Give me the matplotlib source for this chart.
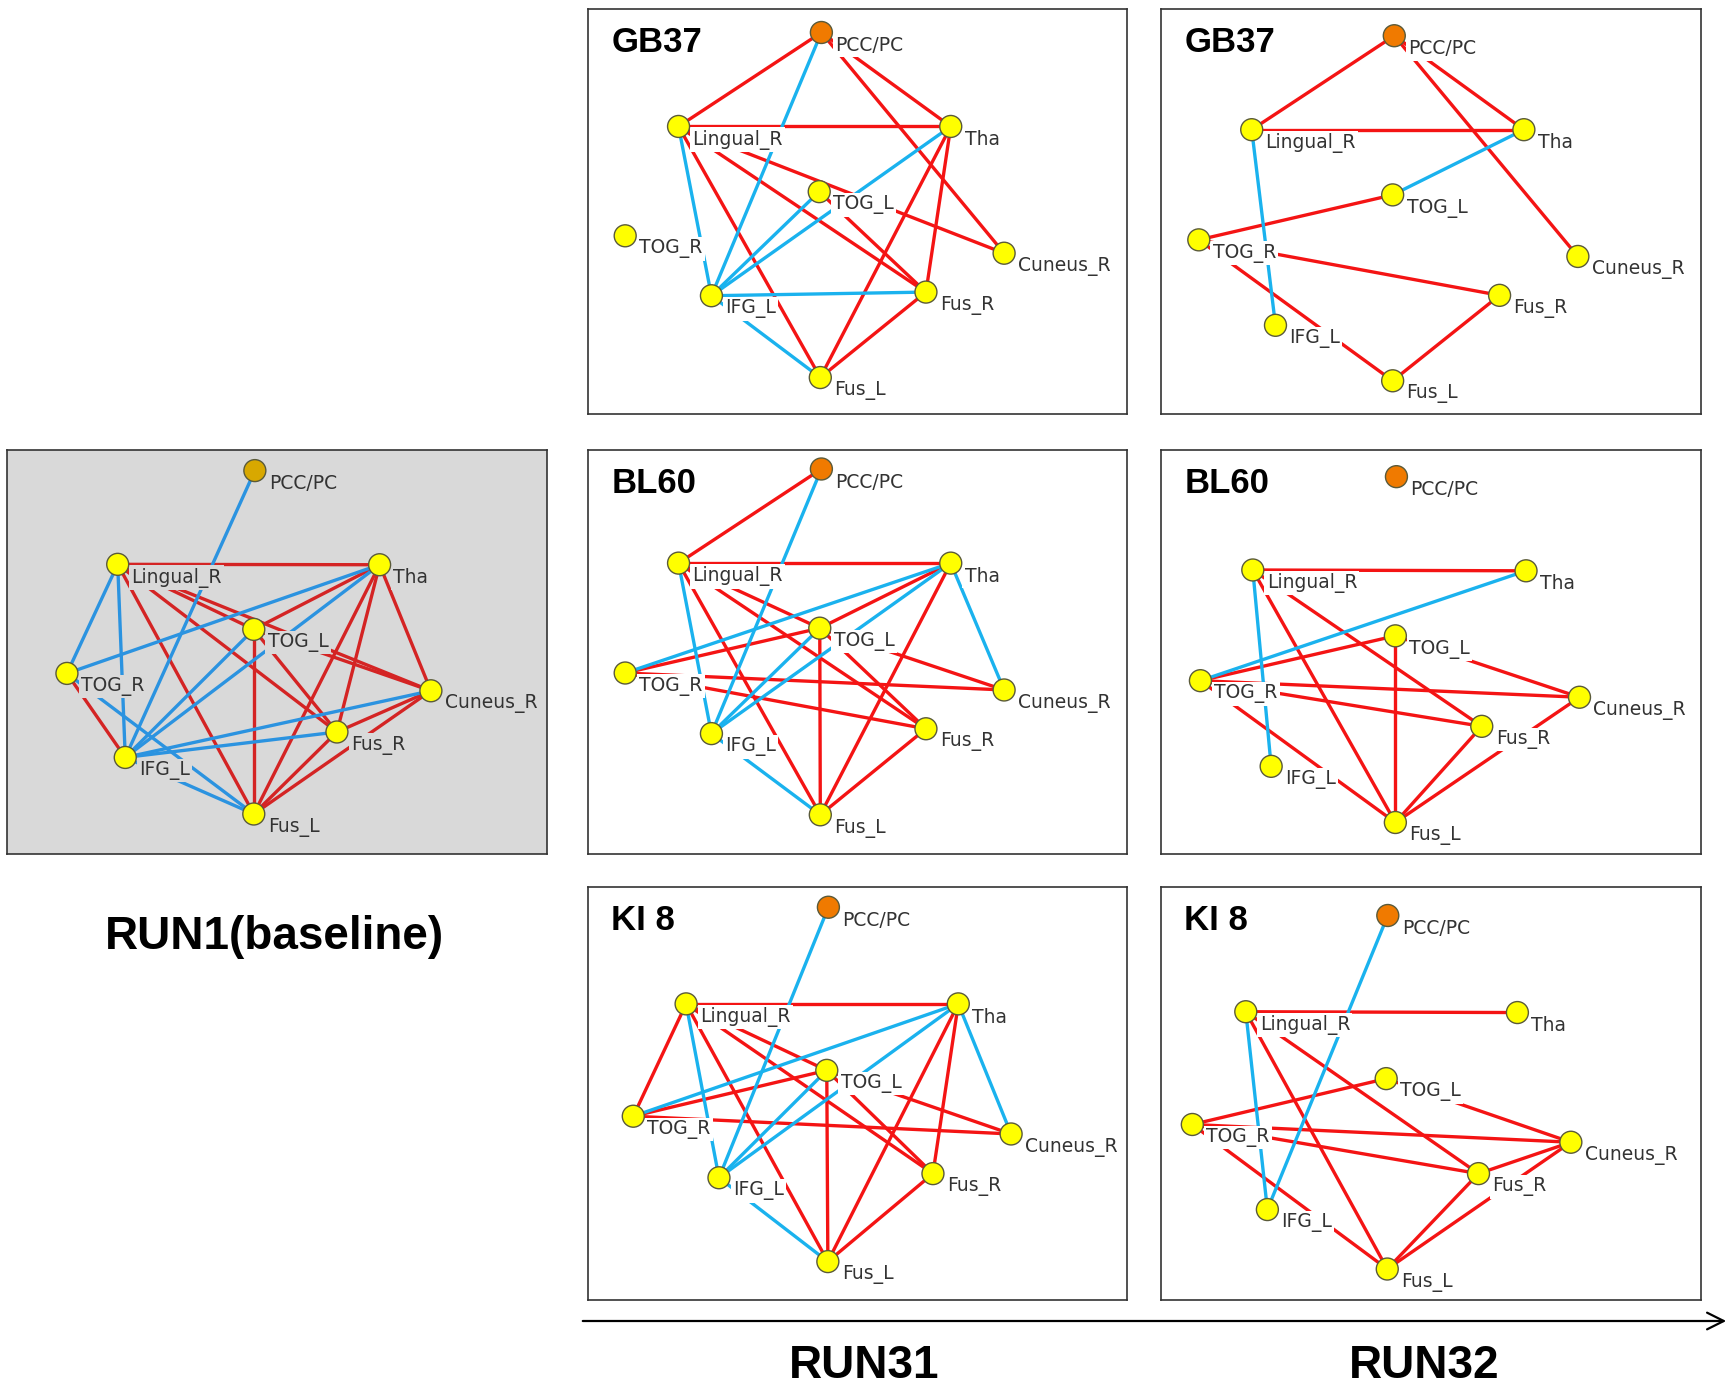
import matplotlib
matplotlib.use('Agg')
import matplotlib.pyplot as plt

plt.rcParams['font.family'] = ['DejaVu Sans']

# Regiones del grafo (mismo orden en todas las listas de posiciones)
nodos = ['PCC/PC', 'Lingual_R', 'Tha', 'TOG_L', 'TOG_R',
         'Cuneus_R', 'Fus_R', 'IFG_L', 'Fus_L']

# Posiciones de los nodos en cada panel (fracción del ancho / alto, y hacia abajo)
pos_run1_x = [0.459, 0.205, 0.690, 0.457, 0.111, 0.785, 0.611, 0.219, 0.457]
pos_run1_y = [0.051, 0.283, 0.284, 0.444, 0.553, 0.596, 0.698, 0.761, 0.901]

pos_gb37_31_x = [0.433, 0.168, 0.673, 0.429, 0.069, 0.772, 0.627, 0.229, 0.431]
pos_gb37_31_y = [0.058, 0.290, 0.290, 0.451, 0.560, 0.603, 0.699, 0.708, 0.910]
pos_gb37_32_x = [0.432, 0.168, 0.672, 0.429, 0.070, 0.772, 0.627, 0.212, 0.429]
pos_gb37_32_y = [0.066, 0.298, 0.298, 0.459, 0.570, 0.611, 0.707, 0.781, 0.918]

pos_bl60_31_x = [0.433, 0.168, 0.673, 0.430, 0.069, 0.772, 0.627, 0.229, 0.431]
pos_bl60_31_y = [0.047, 0.280, 0.280, 0.441, 0.552, 0.594, 0.690, 0.702, 0.903]
pos_bl60_32_x = [0.436, 0.170, 0.676, 0.434, 0.073, 0.775, 0.594, 0.204, 0.434]
pos_bl60_32_y = [0.066, 0.297, 0.299, 0.460, 0.571, 0.612, 0.684, 0.783, 0.922]

pos_ki8_31_x = [0.446, 0.182, 0.687, 0.443, 0.084, 0.785, 0.640, 0.243, 0.445]
pos_ki8_31_y = [0.049, 0.283, 0.283, 0.444, 0.555, 0.598, 0.694, 0.704, 0.907]
pos_ki8_32_x = [0.420, 0.157, 0.660, 0.417, 0.058, 0.759, 0.588, 0.197, 0.419]
pos_ki8_32_y = [0.069, 0.302, 0.304, 0.464, 0.575, 0.618, 0.694, 0.781, 0.925]

# Conexiones: positivas (rojo) y negativas (azul)
rojo_run1 = [('Lingual_R', 'Tha'), ('Lingual_R', 'Fus_L'), ('Lingual_R', 'Fus_R'),
             ('Lingual_R', 'TOG_L'), ('Lingual_R', 'Cuneus_R'), ('Tha', 'TOG_L'),
             ('Tha', 'Cuneus_R'), ('Tha', 'Fus_R'), ('Tha', 'Fus_L'),
             ('TOG_L', 'Fus_L'), ('TOG_L', 'Fus_R'), ('TOG_L', 'Cuneus_R'),
             ('TOG_R', 'IFG_L'), ('Cuneus_R', 'Fus_R'), ('Cuneus_R', 'Fus_L'),
             ('Fus_R', 'Fus_L')]
azul_run1 = [('PCC/PC', 'IFG_L'), ('Lingual_R', 'TOG_R'), ('Lingual_R', 'IFG_L'),
             ('Tha', 'TOG_R'), ('Tha', 'IFG_L'), ('TOG_L', 'IFG_L'),
             ('TOG_R', 'Fus_L'), ('IFG_L', 'Fus_L'), ('IFG_L', 'Cuneus_R'),
             ('IFG_L', 'Fus_R')]

rojo_gb37_31 = [('PCC/PC', 'Lingual_R'), ('PCC/PC', 'Tha'), ('PCC/PC', 'Cuneus_R'),
                ('Lingual_R', 'Tha'), ('Lingual_R', 'Cuneus_R'), ('Lingual_R', 'Fus_R'),
                ('Lingual_R', 'Fus_L'), ('TOG_L', 'Fus_R'), ('Tha', 'Fus_L'),
                ('Tha', 'Fus_R'), ('Fus_R', 'Fus_L')]
azul_gb37_31 = [('PCC/PC', 'IFG_L'), ('Lingual_R', 'IFG_L'), ('Tha', 'IFG_L'),
                ('TOG_L', 'IFG_L'), ('IFG_L', 'Fus_R'), ('IFG_L', 'Fus_L')]

rojo_gb37_32 = [('PCC/PC', 'Lingual_R'), ('PCC/PC', 'Tha'), ('PCC/PC', 'Cuneus_R'),
                ('Lingual_R', 'Tha'), ('TOG_L', 'TOG_R'), ('TOG_R', 'Fus_R'),
                ('TOG_R', 'Fus_L'), ('Fus_R', 'Fus_L')]
azul_gb37_32 = [('Tha', 'TOG_L'), ('Lingual_R', 'IFG_L')]

rojo_bl60_31 = [('PCC/PC', 'Lingual_R'), ('Lingual_R', 'Tha'), ('Lingual_R', 'Fus_L'),
                ('Lingual_R', 'Fus_R'), ('Lingual_R', 'TOG_L'), ('Tha', 'TOG_L'),
                ('TOG_L', 'TOG_R'), ('Tha', 'Fus_L'), ('TOG_L', 'Fus_L'),
                ('TOG_L', 'Fus_R'), ('TOG_L', 'Cuneus_R'), ('TOG_R', 'Cuneus_R'),
                ('TOG_R', 'Fus_R'), ('Fus_R', 'Fus_L')]
azul_bl60_31 = [('PCC/PC', 'IFG_L'), ('Lingual_R', 'IFG_L'), ('Tha', 'TOG_R'),
                ('Tha', 'IFG_L'), ('TOG_L', 'IFG_L'), ('Tha', 'Cuneus_R'),
                ('IFG_L', 'Fus_L')]

rojo_bl60_32 = [('Lingual_R', 'Tha'), ('Lingual_R', 'Fus_L'), ('Lingual_R', 'Fus_R'),
                ('TOG_L', 'TOG_R'), ('TOG_L', 'Fus_L'), ('TOG_L', 'Cuneus_R'),
                ('TOG_R', 'Cuneus_R'), ('TOG_R', 'Fus_R'), ('TOG_R', 'Fus_L'),
                ('Cuneus_R', 'Fus_L'), ('Fus_R', 'Fus_L')]
azul_bl60_32 = [('Tha', 'TOG_R'), ('Lingual_R', 'IFG_L')]

rojo_ki8_31 = [('Lingual_R', 'Tha'), ('Lingual_R', 'TOG_R'), ('Lingual_R', 'Fus_L'),
               ('Lingual_R', 'Fus_R'), ('Lingual_R', 'TOG_L'), ('TOG_L', 'Fus_R'),
               ('TOG_L', 'Cuneus_R'), ('TOG_L', 'TOG_R'), ('Tha', 'Fus_L'),
               ('Tha', 'Fus_R'), ('TOG_R', 'Cuneus_R'), ('TOG_L', 'Fus_L'),
               ('Fus_R', 'Fus_L')]
azul_ki8_31 = [('PCC/PC', 'IFG_L'), ('Lingual_R', 'IFG_L'), ('Tha', 'TOG_R'),
               ('Tha', 'IFG_L'), ('TOG_L', 'IFG_L'), ('Tha', 'Cuneus_R'),
               ('IFG_L', 'Fus_L')]

rojo_ki8_32 = [('Lingual_R', 'Tha'), ('Lingual_R', 'Fus_L'), ('Lingual_R', 'Fus_R'),
               ('TOG_L', 'TOG_R'), ('TOG_L', 'Cuneus_R'), ('TOG_R', 'Cuneus_R'),
               ('TOG_R', 'Fus_R'), ('TOG_R', 'Fus_L'), ('Cuneus_R', 'Fus_R'),
               ('Cuneus_R', 'Fus_L'), ('Fus_R', 'Fus_L')]
azul_ki8_32 = [('PCC/PC', 'IFG_L'), ('Lingual_R', 'IFG_L')]

W, H = 1732, 1389
fig = plt.figure(figsize=(W / 100, H / 100), dpi=100)
fig.patch.set_facecolor('white')


def rect(x0, y0, x1, y1):
    """ Convierte una caja en pixeles (origen arriba a la izquierda)
    a coordenadas de figura para add_axes """
    return [x0 / W, 1 - y1 / H, (x1 - x0) / W, (y1 - y0) / H]


def panel(caja, px, py, rojos, azules, titulo=None, fondo='white',
          c_rojo='#f41414', c_azul='#1ab2ee', c_pcc='#f07a00'):
    ax = fig.add_axes(rect(*caja))
    ax.set_xlim(0, 1)
    ax.set_ylim(1, 0)
    ax.set_facecolor(fondo)
    ax.set_xticks([])
    ax.set_yticks([])
    for s in ax.spines.values():
        s.set_color('#333333')
        s.set_linewidth(1.2)
    idx = {n: i for i, n in enumerate(nodos)}
    for lista, col in ((rojos, c_rojo), (azules, c_azul)):
        for a, b in lista:
            ax.plot([px[idx[a]], px[idx[b]]], [py[idx[a]], py[idx[b]]],
                    color=col, lw=2.4, solid_capstyle='butt', zorder=2)
    # Etiquetas con fondo del panel: tapan las aristas que pasan detrás
    for i, n in enumerate(nodos):
        ax.annotate(n, (px[i], py[i]), xytext=(10, -9.5),
                    textcoords='offset points', ha='left', va='center',
                    fontsize=13.5, color='#333333', zorder=3,
                    bbox=dict(boxstyle='square,pad=0.12', fc=fondo, ec='none'))
    colores = [c_pcc] + ['#ffff00'] * (len(nodos) - 1)
    ax.scatter(px, py, s=250, c=colores, edgecolors='#5a5a3a',
               linewidths=1.0, zorder=4)
    if titulo:
        ax.text(0.043, 0.918, titulo, transform=ax.transAxes, fontsize=25,
                fontweight='bold', family='Liberation Sans', va='center',
                ha='left', color='black', zorder=5)
    return ax


col1 = (588, 1127)
col2 = (1161, 1701)
fila1 = (9, 414)
fila2 = (450, 854)
fila3 = (887, 1300)

panel((7, 450, 547, 854), pos_run1_x, pos_run1_y, rojo_run1, azul_run1,
      fondo='#d9d9d9', c_rojo='#d42424', c_azul='#2b93e0', c_pcc='#d8a800')

panel((col1[0], fila1[0], col1[1], fila1[1]), pos_gb37_31_x, pos_gb37_31_y,
      rojo_gb37_31, azul_gb37_31, titulo='GB37')
panel((col2[0], fila1[0], col2[1], fila1[1]), pos_gb37_32_x, pos_gb37_32_y,
      rojo_gb37_32, azul_gb37_32, titulo='GB37')
panel((col1[0], fila2[0], col1[1], fila2[1]), pos_bl60_31_x, pos_bl60_31_y,
      rojo_bl60_31, azul_bl60_31, titulo='BL60')
panel((col2[0], fila2[0], col2[1], fila2[1]), pos_bl60_32_x, pos_bl60_32_y,
      rojo_bl60_32, azul_bl60_32, titulo='BL60')
panel((col1[0], fila3[0], col1[1], fila3[1]), pos_ki8_31_x, pos_ki8_31_y,
      rojo_ki8_31, azul_ki8_31, titulo='KI 8')
panel((col2[0], fila3[0], col2[1], fila3[1]), pos_ki8_32_x, pos_ki8_32_y,
      rojo_ki8_32, azul_ki8_32, titulo='KI 8')

# Textos inferiores y flecha del tiempo
fig.text(274 / W, 1 - 937 / H, 'RUN1(baseline)', fontsize=33, fontweight='bold',
         family='Liberation Sans', ha='center', va='center')
fig.text(864 / W, 1 - 1366 / H, 'RUN31', fontsize=33, fontweight='bold',
         family='Liberation Sans', ha='center', va='center')
fig.text(1424 / W, 1 - 1366 / H, 'RUN32', fontsize=33, fontweight='bold',
         family='Liberation Sans', ha='center', va='center')
fig.add_artist(matplotlib.patches.FancyArrowPatch(
    (580 / W, 1 - 1321 / H), (1729 / W, 1 - 1321 / H),
    transform=fig.transFigure, arrowstyle='->,head_length=12,head_width=6',
    color='black', lw=1.6, mutation_scale=1))

fig.savefig('out.png', dpi=100, facecolor='white')
